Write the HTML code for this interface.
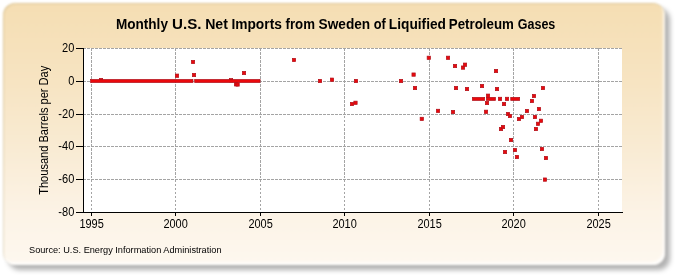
<!DOCTYPE html>
<html><head><meta charset="utf-8"><style>
html,body{margin:0;padding:0;background:#fff;width:675px;height:275px;overflow:hidden}
.box{position:absolute;left:3px;top:3px;width:662px;height:262px;border-radius:12px;
background:linear-gradient(to bottom,#F5DEB3 0%,#F7E4C2 30%,#F9EBD3 55%,#FCF3E6 80%,#FEF8EF 100%);
box-shadow:inset -2px -3px 2px rgba(255,255,255,0.8), inset 1px 1px 1px rgba(150,130,70,0.25);filter:blur(1px)}
.shadow{position:absolute;left:8px;top:7.5px;width:662px;height:262px;border-radius:12px;background:rgba(0,0,0,0.30);filter:blur(2.5px)}
svg{position:absolute;left:0;top:0;will-change:transform}
text{font-family:"Liberation Sans",sans-serif;fill:#000}
</style></head><body>
<div class="shadow"></div><div class="box"></div>
<svg width="675" height="275" viewBox="0 0 675 275">
<rect x="84" y="48" width="538" height="164" fill="#fff"/>
<g stroke="#A4A4A4" stroke-width="1" stroke-dasharray="2.5,1.5" fill="none" shape-rendering="crispEdges">
<line x1="91.5" y1="48" x2="91.5" y2="212"/><line x1="175.5" y1="48" x2="175.5" y2="212"/><line x1="260.5" y1="48" x2="260.5" y2="212"/><line x1="344.5" y1="48" x2="344.5" y2="212"/><line x1="429.5" y1="48" x2="429.5" y2="212"/><line x1="513.5" y1="48" x2="513.5" y2="212"/><line x1="598.5" y1="48" x2="598.5" y2="212"/><line x1="83" y1="48.5" x2="622" y2="48.5"/><line x1="83" y1="81.5" x2="622" y2="81.5"/><line x1="83" y1="114.5" x2="622" y2="114.5"/><line x1="83" y1="146.5" x2="622" y2="146.5"/><line x1="83" y1="179.5" x2="622" y2="179.5"/>
</g>
<g stroke="#000" stroke-width="1" shape-rendering="crispEdges">
<line x1="83.5" y1="48" x2="83.5" y2="213"/>
<line x1="83" y1="212.5" x2="623" y2="212.5"/>
<line x1="76" y1="48.5" x2="84" y2="48.5"/><line x1="76" y1="81.5" x2="84" y2="81.5"/><line x1="76" y1="114.5" x2="84" y2="114.5"/><line x1="76" y1="146.5" x2="84" y2="146.5"/><line x1="76" y1="179.5" x2="84" y2="179.5"/><line x1="76" y1="212.5" x2="84" y2="212.5"/><line x1="91.5" y1="212" x2="91.5" y2="216"/><line x1="175.5" y1="212" x2="175.5" y2="216"/><line x1="260.5" y1="212" x2="260.5" y2="216"/><line x1="344.5" y1="212" x2="344.5" y2="216"/><line x1="429.5" y1="212" x2="429.5" y2="216"/><line x1="513.5" y1="212" x2="513.5" y2="216"/><line x1="598.5" y1="212" x2="598.5" y2="216"/>
</g>
<g fill="#EA080C" stroke="#B0101A" stroke-width="0.7">
<rect x="99.35" y="78.35" width="3.3" height="3.3"/><rect x="175.35" y="74.05" width="3.3" height="3.3"/><rect x="191.35" y="60.35" width="3.3" height="3.3"/><rect x="192.35" y="73.35" width="3.3" height="3.3"/><rect x="229.35" y="78.55" width="3.3" height="3.3"/><rect x="234.35" y="82.65" width="3.3" height="3.3"/><rect x="235.95" y="82.85" width="3.3" height="3.3"/><rect x="242.35" y="71.35" width="3.3" height="3.3"/><rect x="292.35" y="58.35" width="3.3" height="3.3"/><rect x="318.35" y="79.35" width="3.3" height="3.3"/><rect x="330.35" y="78.05" width="3.3" height="3.3"/><rect x="350.35" y="102.35" width="3.3" height="3.3"/><rect x="353.85" y="101.15" width="3.3" height="3.3"/><rect x="354.35" y="79.35" width="3.3" height="3.3"/><rect x="399.35" y="79.35" width="3.3" height="3.3"/><rect x="411.95" y="72.95" width="3.3" height="3.3"/><rect x="413.35" y="86.35" width="3.3" height="3.3"/><rect x="420.15" y="117.25" width="3.3" height="3.3"/><rect x="427.15" y="56.15" width="3.3" height="3.3"/><rect x="436.35" y="109.25" width="3.3" height="3.3"/><rect x="446.35" y="56.15" width="3.3" height="3.3"/><rect x="453.35" y="64.35" width="3.3" height="3.3"/><rect x="454.35" y="86.35" width="3.3" height="3.3"/><rect x="451.35" y="110.35" width="3.3" height="3.3"/><rect x="461.35" y="65.95" width="3.3" height="3.3"/><rect x="463.35" y="63.05" width="3.3" height="3.3"/><rect x="465.35" y="87.35" width="3.3" height="3.3"/><rect x="480.35" y="84.35" width="3.3" height="3.3"/><rect x="494.35" y="69.35" width="3.3" height="3.3"/><rect x="495.35" y="87.35" width="3.3" height="3.3"/><rect x="486.35" y="94.05" width="3.3" height="3.3"/><rect x="485.35" y="101.35" width="3.3" height="3.3"/><rect x="484.35" y="110.15" width="3.3" height="3.3"/><rect x="498.35" y="97.25" width="3.3" height="3.3"/><rect x="505.35" y="97.25" width="3.3" height="3.3"/><rect x="502.35" y="102.35" width="3.3" height="3.3"/><rect x="506.35" y="112.35" width="3.3" height="3.3"/><rect x="508.35" y="114.35" width="3.3" height="3.3"/><rect x="517.35" y="117.35" width="3.3" height="3.3"/><rect x="520.35" y="115.35" width="3.3" height="3.3"/><rect x="525.35" y="109.35" width="3.3" height="3.3"/><rect x="530.35" y="99.35" width="3.3" height="3.3"/><rect x="532.35" y="94.35" width="3.3" height="3.3"/><rect x="537.35" y="107.35" width="3.3" height="3.3"/><rect x="533.35" y="115.35" width="3.3" height="3.3"/><rect x="539.35" y="119.15" width="3.3" height="3.3"/><rect x="536.35" y="122.15" width="3.3" height="3.3"/><rect x="534.35" y="127.35" width="3.3" height="3.3"/><rect x="499.35" y="127.35" width="3.3" height="3.3"/><rect x="501.35" y="125.35" width="3.3" height="3.3"/><rect x="509.35" y="138.35" width="3.3" height="3.3"/><rect x="503.35" y="150.35" width="3.3" height="3.3"/><rect x="513.35" y="148.35" width="3.3" height="3.3"/><rect x="540.35" y="147.35" width="3.3" height="3.3"/><rect x="515.35" y="155.35" width="3.3" height="3.3"/><rect x="544.35" y="156.35" width="3.3" height="3.3"/><rect x="541.35" y="86.35" width="3.3" height="3.3"/><rect x="543.35" y="177.95" width="3.3" height="3.3"/><rect x="90.55" y="79.44999999999999" width="102.4" height="3.1"/><rect x="194.65" y="79.44999999999999" width="65.4" height="3.1"/><rect x="472.35" y="97.35" width="12.3" height="3.1"/><rect x="486.35" y="97.35" width="9.1" height="3.1"/><rect x="510.75" y="97.35" width="8.9" height="3.1"/>
</g>
<g style="font-weight:bold;font-size:14px"><text x="115.93" y="29" textLength="52.02" lengthAdjust="spacingAndGlyphs">Monthly</text><text x="172.09" y="29" textLength="29.37" lengthAdjust="spacingAndGlyphs">U.S.</text><text x="205.19" y="29" textLength="22.72" lengthAdjust="spacingAndGlyphs">Net</text><text x="231.42" y="29" textLength="50.47" lengthAdjust="spacingAndGlyphs">Imports</text><text x="285.56" y="29" textLength="29.46" lengthAdjust="spacingAndGlyphs">from</text><text x="318.61" y="29" textLength="51.57" lengthAdjust="spacingAndGlyphs">Sweden</text><text x="373.75" y="29" textLength="12.03" lengthAdjust="spacingAndGlyphs">of</text><text x="388.82" y="29" textLength="57.14" lengthAdjust="spacingAndGlyphs">Liquified</text><text x="448.85" y="29" textLength="65.07" lengthAdjust="spacingAndGlyphs">Petroleum</text><text x="517.75" y="29" textLength="37.54" lengthAdjust="spacingAndGlyphs">Gases</text></g>
<g style="font-size:12.3px">
<text transform="translate(74.3,51.8) scale(0.9,1)" text-anchor="end">20</text><text transform="translate(74.3,84.8) scale(0.9,1)" text-anchor="end">0</text><text transform="translate(74.3,117.8) scale(0.9,1)" text-anchor="end">-20</text><text transform="translate(74.3,149.8) scale(0.9,1)" text-anchor="end">-40</text><text transform="translate(74.3,182.8) scale(0.9,1)" text-anchor="end">-60</text><text transform="translate(74.3,215.8) scale(0.9,1)" text-anchor="end">-80</text><text transform="translate(91.6,228.1) scale(0.89,1)" text-anchor="middle">1995</text><text transform="translate(175.6,228.1) scale(0.89,1)" text-anchor="middle">2000</text><text transform="translate(260.6,228.1) scale(0.89,1)" text-anchor="middle">2005</text><text transform="translate(344.6,228.1) scale(0.89,1)" text-anchor="middle">2010</text><text transform="translate(429.6,228.1) scale(0.89,1)" text-anchor="middle">2015</text><text transform="translate(513.6,228.1) scale(0.89,1)" text-anchor="middle">2020</text><text transform="translate(598.6,228.1) scale(0.89,1)" text-anchor="middle">2025</text>
<text transform="translate(48,130.3) rotate(-90) scale(0.9,1)" text-anchor="middle">Thousand Barrels per Day</text>
</g>
<text x="29" y="253" style="font-size:9.2px">Source: U.S. Energy Information Administration</text>
</svg>
</body></html>
